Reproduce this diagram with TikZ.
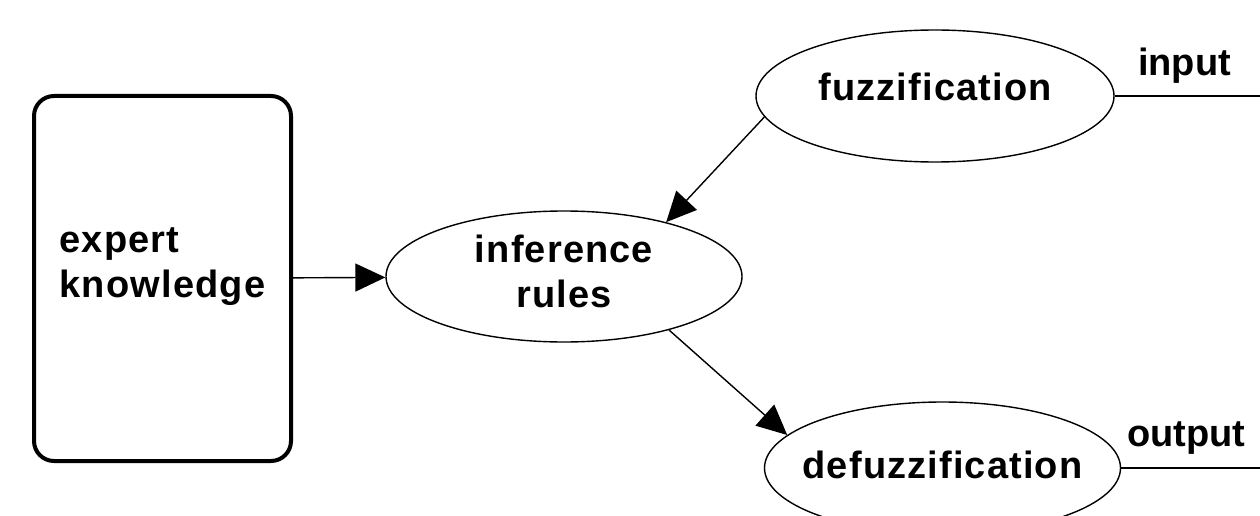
\documentclass[tikz,border=0pt]{standalone}
\usepackage{fontspec}
\setmainfont{Liberation Sans}
\newfontfamily\spacedsans[LetterSpace=3]{Liberation Sans}
\usetikzlibrary{arrows.meta,shapes.geometric}
\begin{document}
\begin{tikzpicture}[x=1pt,y=-1pt,
  txt/.style={font=\spacedsans\bfseries\fontsize{38}{45}\selectfont},
  lbl/.style={font=\bfseries\fontsize{38}{45}\selectfont, anchor=base west, inner sep=0pt},
  ell/.style={ellipse, draw, line width=1.4pt, inner sep=0pt, txt, align=center},
  kbox/.style={draw, line width=4pt, rounded corners=20pt, inner sep=0pt},
  conn/.style={line width=1.4pt, -{Triangle[length=30pt,width=28pt]}},
  plain/.style={line width=1.6pt}]
\clip (0,0) rectangle (1260,516);
\useasboundingbox (0,0) rectangle (1260,516);
\fill[white] (0,0) rectangle (1260,516);
\node[kbox, minimum width=257pt, minimum height=365pt,
  label={[txt, align=left, yshift=12pt]center:{expert\\knowledge}}] (ek) at (162.5,278.5) {};
\node[ell, minimum width=356pt, minimum height=131pt,
  label={[txt, align=center, yshift=5pt]center:{inference\\rules}}] (inf) at (564,276.5) {};
\node[ell, minimum width=358pt, minimum height=132pt,
  label={[txt, yshift=9pt]center:{fuzzification}}] (fuzz) at (935,96) {};
\node[ell, minimum width=356pt, minimum height=132pt,
  label={[txt, yshift=3pt]center:{defuzzification}}] (defz) at (942.5,468) {};
\coordinate (inEnd) at (1262,98);
\coordinate (outEnd) at (1262,470);
\draw[conn] (ek) -- (inf);
\draw[conn] (fuzz.187) -- (inf.28);
\draw[conn] (inf.-27) -- (defz.168);
\draw[plain] (fuzz.east) -- (fuzz.east -| inEnd);
\draw[plain] (defz.east) -- (defz.east -| outEnd);
\node[lbl] (inlbl) at (1138,76) {input};
\node[lbl] (outlbl) at (1127,446) {output};
\end{tikzpicture}
\end{document}
